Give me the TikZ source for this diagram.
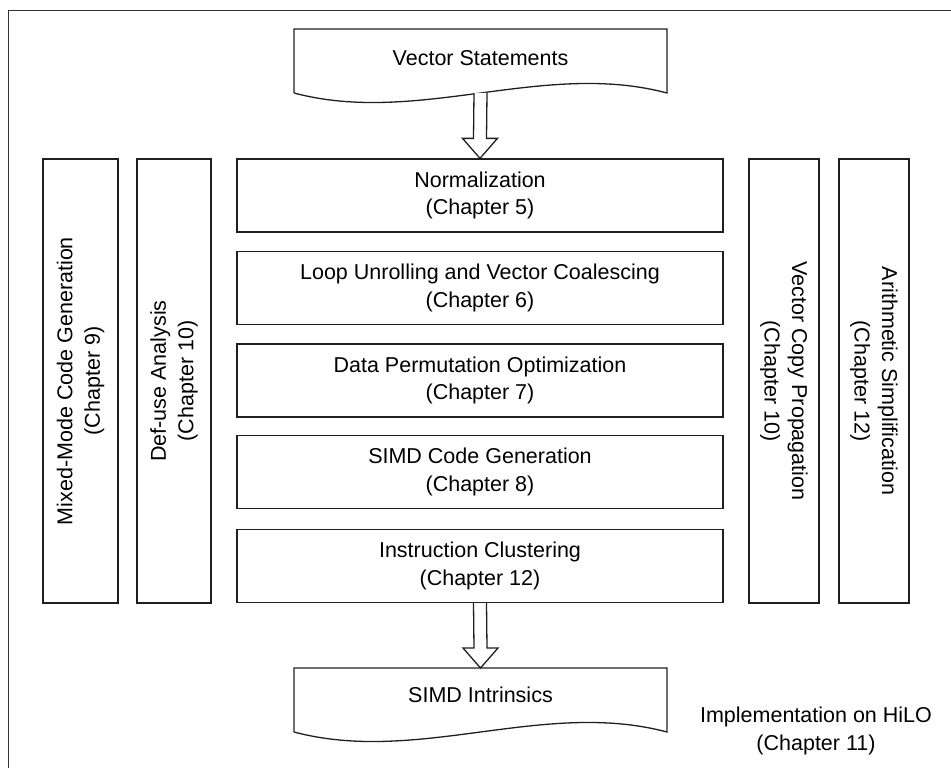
\documentclass[tikz,border=0pt]{standalone}
\usepackage{fontspec}
\setmainfont{Liberation Sans}
\usetikzlibrary{calc}

\tikzset{
  ink/.style={draw=black!88, line width=1.3pt},
  stage/.style={ink, rectangle, inner sep=0pt, minimum width=486pt, minimum height=73pt,
    align=center, font=\fontsize{21.5}{27.5}\selectfont},
  sidebox/.style={ink, rectangle, inner sep=0pt, minimum width=444pt,
    align=center, font=\fontsize{21.5}{27.5}\selectfont},
  plain/.style={inner sep=0pt, align=center, font=\fontsize{21.5}{27.5}\selectfont},
  blockarrow/.style={ink, fill=white, line join=miter},
}

% hollow block arrow from #1 down to #2
\newcommand{\hollowarrow}[2]{%
  \draw[blockarrow] ($(#1)+(-6.5,0)$) -- ($(#2)+(-6.5,-20)$) -- ($(#2)+(-17.5,-20)$)
    -- (#2) -- ($(#2)+(17.5,-20)$) -- ($(#2)+(6.5,-20)$) -- ($(#1)+(6.5,0)$);
}

% document symbol with wavy lower edge, top-left corner at #1
\newcommand{\docoutline}[1]{%
  \draw[ink, shift={(#1)}] (0,64) -- (0,0) -- (373,0) -- (373,64)
    .. controls (249,31) and (124,97) .. (0,64);
}

\begin{document}
\begin{tikzpicture}[x=1pt, y=-1pt]
\useasboundingbox (0,0) rectangle (951,768);

% outer frame
\draw[draw=black!80, line width=1.3pt] (8.5,780) -- (8.5,10.5) -- (965,10.5);

% input and output documents
\docoutline{294,29}
\node[plain] (vs) at (480.5,58) {Vector Statements};
\coordinate (vsb) at (480.5,93);

\docoutline{294,668}
\node[plain] (si) at (480.5,695) {SIMD Intrinsics};
\coordinate (sit) at (480.5,668);

% central pipeline
\node[stage] (s1) at (480,195.5) {Normalization\\(Chapter 5)};
\node[stage] (s2) at (480,288) {Loop Unrolling and Vector Coalescing\\(Chapter 6)};
\node[stage] (s3) at (480,380.5) {Data Permutation Optimization\\(Chapter 7)};
\node[stage] (s4) at (480,472) {SIMD Code Generation\\(Chapter 8)};
\node[stage] (s5) at (480,566) {Instruction Clustering\\(Chapter 12)};

% side passes
\node[sidebox, minimum height=75pt, rotate=90] (m1) at (80.5,381) {Mixed-Mode Code Generation\\(Chapter 9)};
\node[sidebox, minimum height=74pt, rotate=90] (m2) at (174,381) {Def-use Analysis\\(Chapter 10)};
\node[sidebox, minimum height=70pt, rotate=-90] (m3) at (784,381) {Vector Copy Propagation\\(Chapter 10)};
\node[sidebox, minimum height=70pt, rotate=-90] (m4) at (874,381) {Arithmetic Simplification\\(Chapter 12)};

% flow arrows
\hollowarrow{vsb}{s1.north}
\hollowarrow{s5.south}{sit}

% caption
\node[plain] (impl) at (816,731) {Implementation on HiLO\\(Chapter 11)};
\end{tikzpicture}
\end{document}
